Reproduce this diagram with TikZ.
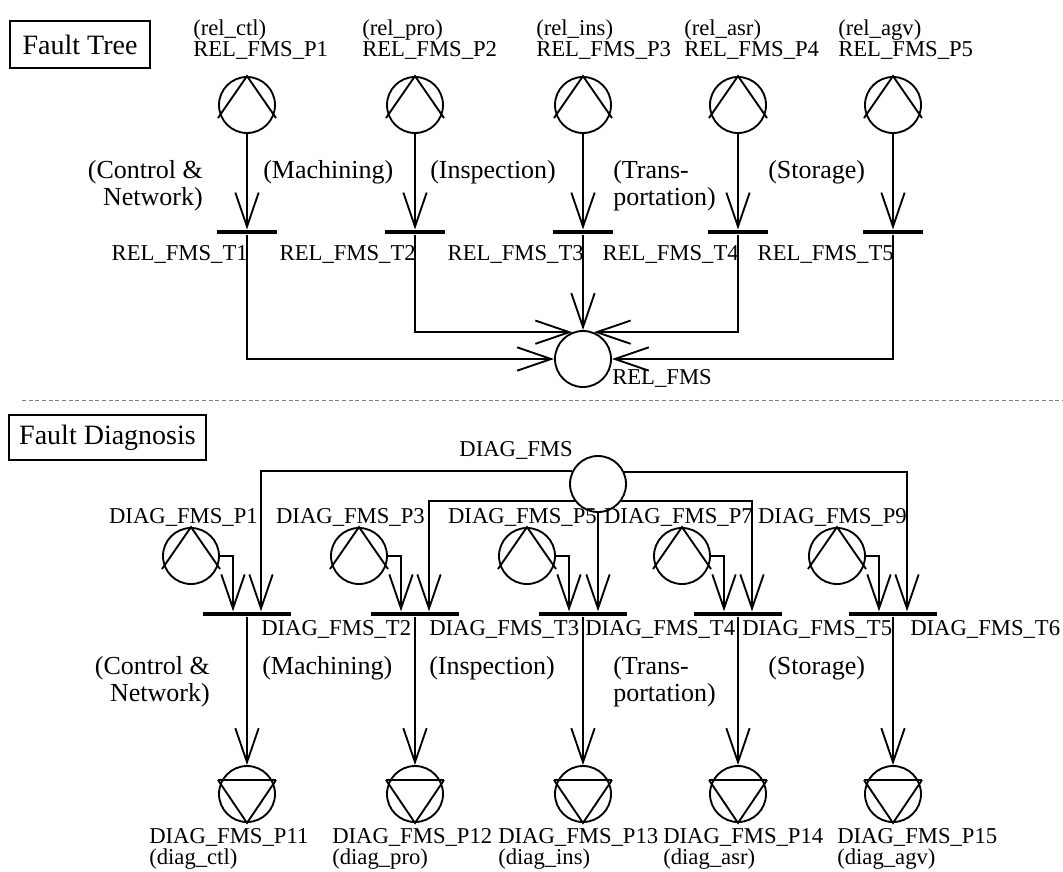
\documentclass[tikz,border=0pt]{standalone}
\usepackage{fontspec}
\setmainfont{Liberation Serif}
\usetikzlibrary{arrows.meta,calc}
\newcommand\upplace[3]{%
  \node[place] (#1) at (#2,#3) {};
  \draw[glyph] ($(#1.center)+(-29,13)$) -- (#1.north) -- ($(#1.center)+(29,13)$);}
\newcommand\downplace[3]{%
  \node[place] (#1) at (#2,#3) {};
  \draw[glyph] ($(#1.center)+(-29,-14)$) -- (#1.south) -- ($(#1.center)+(29,-14)$);
  \draw[glyph,line width=2.1pt] ($(#1.center)+(-29,-14)$) -- ($(#1.center)+(29,-14)$);}
\newcommand\twoL[2]{\begin{tabular}[t]{@{}l@{}}#1\\#2\end{tabular}}
\newcommand\twoR[2]{\begin{tabular}[t]{@{}r@{}}#1\\#2\end{tabular}}
\tikzset{
  glyph/.style={line width=1.4pt},
  place/.style={circle,draw,line width=1.4pt,minimum size=42pt,inner sep=0pt},
  tbar/.style={rectangle,fill=black,minimum width=45pt,minimum height=3.4pt,inner sep=0pt},
  dbar/.style={tbar,minimum width=66pt,minimum height=3.6pt},
  arc/.style={line width=1.4pt,-{Straight Barb[length=25.5pt,width=17.5pt]}},
  lbl/.style={font=\fontsize{17}{15.75}\selectfont,inner sep=0pt},
  lblb/.style={font=\fontsize{17}{14.5}\selectfont,inner sep=0pt},
  cat/.style={font=\fontsize{19.5}{20.25}\selectfont,inner sep=0pt},
  titlebox/.style={draw,line width=1.4pt,font=\fontsize{21}{22}\selectfont,inner sep=0pt},
  sep/.style={gray,line width=0.7pt,dash pattern=on 3pt off 2pt},
}
\begin{document}
\begin{tikzpicture}[x=0.75pt,y=-0.75pt]
\fill[white] (0,0) rectangle (1063,871);
\useasboundingbox (0,0) rectangle (1063,871);

% ---------------- Fault Tree ----------------
\node[titlebox,minimum width=105pt,minimum height=35pt] (ft) at (80,44.5) {Fault Tree};

\upplace{RP1}{247}{105}
\upplace{RP2}{415}{105}
\upplace{RP3}{583}{105}
\upplace{RP4}{738}{105}
\upplace{RP5}{893}{105}

\node[lbl,anchor=base west] (rp1) at (193,35) {\twoL{(rel\_ctl)}{REL\_FMS\_P1}};
\node[lbl,anchor=base west] (rp2) at (362,35) {\twoL{(rel\_pro)}{REL\_FMS\_P2}};
\node[lbl,anchor=base west] (rp3) at (536,35) {\twoL{(rel\_ins)}{REL\_FMS\_P3}};
\node[lbl,anchor=base west] (rp4) at (684,35) {\twoL{(rel\_asr)}{REL\_FMS\_P4}};
\node[lbl,anchor=base west] (rp5) at (838,35) {\twoL{(rel\_agv)}{REL\_FMS\_P5}};

\node[tbar] (RT1) at (247,232) {};
\node[tbar] (RT2) at (415,232) {};
\node[tbar] (RT3) at (583,232) {};
\node[tbar] (RT4) at (738,232) {};
\node[tbar] (RT5) at (893,232) {};

\node[lbl,anchor=base east] (rt1) at (248,260) {REL\_FMS\_T1};
\node[lbl,anchor=base east] (rt2) at (416,260) {REL\_FMS\_T2};
\node[lbl,anchor=base east] (rt3) at (584,260) {REL\_FMS\_T3};
\node[lbl,anchor=base east] (rt4) at (739,260) {REL\_FMS\_T4};
\node[lbl,anchor=base east] (rt5) at (894,260) {REL\_FMS\_T5};

\node[cat,anchor=base east] (c1) at (203,178) {\twoR{(Control \&}{Network)}};
\node[cat,anchor=base west] (c2) at (263,178) {(Machining)};
\node[cat,anchor=base west] (c3) at (430,178) {(Inspection)};
\node[cat,anchor=base west] (c4) at (613,178) {\twoL{(Trans-}{portation)}};
\node[cat,anchor=base west] (c5) at (768,178) {(Storage)};

\foreach \i in {1,...,5} {\draw[arc] (RP\i.south) -- (RT\i.north);}

\node[place] (R) at (583,359) {};
\node[lbl,anchor=base west] (rl) at (612,384) {REL\_FMS};

\draw[arc] (RT1.south) |- (R.west);
\draw[arc] (RT2.south) |- (R.112);
\draw[arc] (RT3.south) -- (R.north);
\draw[arc] (RT4.south) |- (R.68);
\draw[arc] (RT5.south) |- (R.east);

% separator
\draw[sep] (22,400) -- (1063,400);

% ---------------- Fault Diagnosis ----------------
\node[titlebox,minimum width=147.75pt,minimum height=33.75pt] (fd) at (107.5,437.5) {Fault Diagnosis};

\node[place] (DF) at (598,484) {};
\node[lbl,anchor=base east] (dfl) at (573,456) {DIAG\_FMS};

\upplace{DP1}{191}{556}
\upplace{DP3}{359}{556}
\upplace{DP5}{527}{556}
\upplace{DP7}{682}{556}
\upplace{DP9}{837}{556}

\node[lbl,anchor=base east] (dp1) at (258,523) {DIAG\_FMS\_P1};
\node[lbl,anchor=base east] (dp3) at (425,523) {DIAG\_FMS\_P3};
\node[lbl,anchor=base east] (dp5) at (597,523) {DIAG\_FMS\_P5};
\node[lbl,anchor=base east] (dp7) at (753,523) {DIAG\_FMS\_P7};
\node[lbl,anchor=base east] (dp9) at (907,523) {DIAG\_FMS\_P9};

\node[dbar] (DT1) at (247,614) {};
\node[dbar] (DT2) at (415,614) {};
\node[dbar] (DT3) at (583,614) {};
\node[dbar] (DT4) at (738,614) {};
\node[dbar] (DT5) at (893,614) {};

\node[lbl,anchor=base west] (dt2) at (261,635) {DIAG\_FMS\_T2};
\node[lbl,anchor=base west] (dt3) at (429,635) {DIAG\_FMS\_T3};
\node[lbl,anchor=base west] (dt4) at (585,635) {DIAG\_FMS\_T4};
\node[lbl,anchor=base west] (dt5) at (742,635) {DIAG\_FMS\_T5};
\node[lbl,anchor=base west] (dt6) at (910,635) {DIAG\_FMS\_T6};

% place -> transition (left inputs)
\draw[arc] (DP1.east) -| ([xshift=-10.5pt]DT1.north);
\draw[arc] (DP3.east) -| ([xshift=-10.5pt]DT2.north);
\draw[arc] (DP5.east) -| ([xshift=-10.5pt]DT3.north);
\draw[arc] (DP7.east) -| ([xshift=-10.5pt]DT4.north);
\draw[arc] (DP9.east) -| ([xshift=-10.5pt]DT5.north);

% DIAG_FMS -> transitions (right inputs)
\draw[arc] (DF.154.6) -| ([xshift=10.5pt]DT1.north);
\draw[arc] (DF.217.4) -| ([xshift=10.5pt]DT2.north);
\draw[arc] (DF.south) -- (DF.south |- DT3.north);
\draw[arc] (DF.-37.4) -| ([xshift=10.5pt]DT4.north);
\draw[arc] (DF.25.4) -| ([xshift=10.5pt]DT5.north);

\node[cat,anchor=base east] (d1) at (210,674) {\twoR{(Control \&}{Network)}};
\node[cat,anchor=base west] (d2) at (262,674) {(Machining)};
\node[cat,anchor=base west] (d3) at (429,674) {(Inspection)};
\node[cat,anchor=base west] (d4) at (613,674) {\twoL{(Trans-}{portation)}};
\node[cat,anchor=base west] (d5) at (768,674) {(Storage)};

\downplace{DQ1}{247}{794}
\downplace{DQ2}{415}{794}
\downplace{DQ3}{583}{794}
\downplace{DQ4}{738}{794}
\downplace{DQ5}{893}{794}

\foreach \i in {1,...,5} {\draw[arc] (DT\i.south) -- (DQ\i.north);}

\node[lblb,anchor=base west] (dq1) at (149,843) {\twoL{DIAG\_FMS\_P11}{(diag\_ctl)}};
\node[lblb,anchor=base west] (dq2) at (332,843) {\twoL{DIAG\_FMS\_P12}{(diag\_pro)}};
\node[lblb,anchor=base west] (dq3) at (498,843) {\twoL{DIAG\_FMS\_P13}{(diag\_ins)}};
\node[lblb,anchor=base west] (dq4) at (663,843) {\twoL{DIAG\_FMS\_P14}{(diag\_asr)}};
\node[lblb,anchor=base west] (dq5) at (837,843) {\twoL{DIAG\_FMS\_P15}{(diag\_agv)}};
\end{tikzpicture}
\end{document}
